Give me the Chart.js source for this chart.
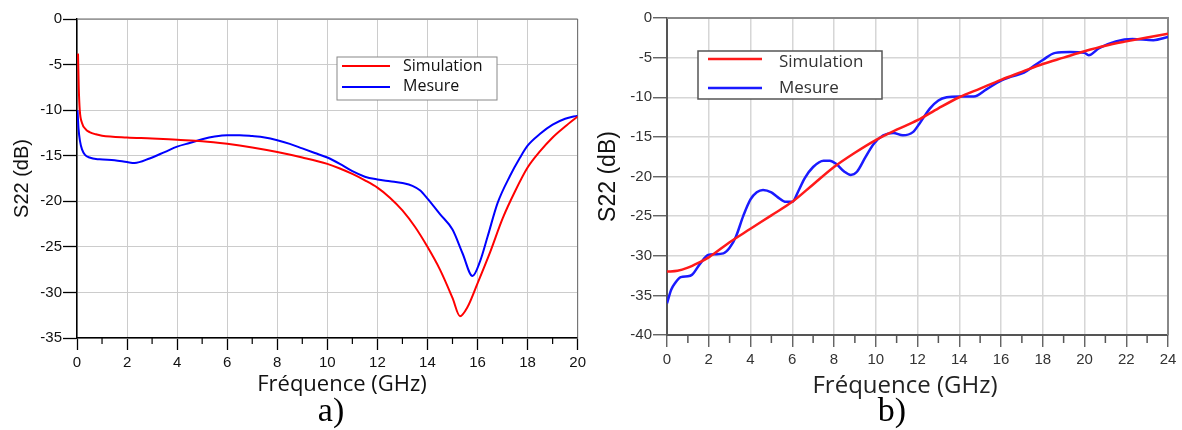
<!DOCTYPE html>
<html>
<head>
<meta charset="utf-8">
<script src="https://cdn.jsdelivr.net/npm/chart.js@4.4.1/dist/chart.umd.min.js"></script>
<style>
  body { margin: 0; background: #fff; }
  #wrap { position: relative; width: 1182px; height: 430px; }
  .pane { position: absolute; top: 0; }
</style>
</head>
<body>
<div id="wrap">
  <div class="pane" style="left:0;width:590px;height:430px"><canvas id="chartA" width="590" height="430"></canvas></div>
  <div class="pane" style="left:590px;width:592px;height:430px"><canvas id="chartB" width="592" height="430"></canvas></div>
</div>
<script>
//my data
// a) S22 0-20 GHz
const freqSimA = [0.04, 0.07, 0.11, 0.2, 0.35, 0.5, 0.75, 1, 2, 3, 4, 5, 6, 7, 8, 9, 10, 10.5, 11, 11.5, 12, 12.5, 13, 13.5, 14, 14.5, 15, 15.3, 15.6, 16, 16.5, 17, 17.5, 18, 18.5, 19, 19.5, 20]
const simA = [-3.8, -7.5, -10, -11.4, -12.1, -12.4, -12.65, -12.8, -13.0, -13.1, -13.25, -13.4, -13.7, -14.1, -14.6, -15.2, -15.9, -16.4, -17.0, -17.7, -18.5, -19.6, -21.0, -22.8, -25.0, -27.5, -30.6, -32.6, -31.6, -29.0, -25.6, -21.9, -18.9, -16.3, -14.5, -13.0, -11.8, -10.7]
const freqMesA = [0.02, 0.06, 0.12, 0.2, 0.32, 0.5, 0.9, 1.5, 2, 2.3, 2.9, 3.5, 4, 4.5, 5, 5.5, 6, 6.5, 7, 7.5, 8, 8.5, 9, 9.5, 10, 10.5, 11, 11.5, 12, 12.5, 13, 13.4, 13.7, 14, 14.5, 15, 15.4, 15.8, 16.1, 16.4, 16.8, 17.3, 17.7, 18, 18.5, 19, 19.5, 20]
const mesA = [-10, -12, -13.4, -14.3, -14.9, -15.2, -15.4, -15.5, -15.7, -15.8, -15.3, -14.6, -14.0, -13.6, -13.2, -12.9, -12.75, -12.75, -12.85, -13.0, -13.3, -13.7, -14.2, -14.7, -15.2, -15.9, -16.7, -17.3, -17.6, -17.8, -18.0, -18.3, -18.8, -19.7, -21.4, -23.1, -25.7, -28.2, -26.6, -23.9, -20.2, -17.2, -15.2, -13.9, -12.6, -11.6, -10.95, -10.6]

// b) S22 0-24 GHz
const freqSimB = [0, 0.5, 1, 1.5, 2, 3, 4, 5, 6, 7, 8, 9, 10, 11, 12, 13, 14, 15, 16, 17, 18, 19, 20, 21, 22, 23, 24]
const simB = [-32.0, -31.9, -31.5, -30.9, -30.2, -28.3, -26.6, -24.9, -23.2, -21.0, -18.8, -17.0, -15.4, -14.1, -12.9, -11.4, -10.0, -8.9, -7.8, -6.8, -5.8, -5.0, -4.2, -3.5, -2.95, -2.45, -2.0]
const freqMesB = [0, 0.2, 0.4, 0.66, 1.0, 1.2, 1.56, 1.97, 2.3, 2.7, 3.0, 3.3, 3.65, 4.0, 4.3, 4.6, 5.0, 5.3, 5.7, 6.0, 6.3, 6.6, 7.0, 7.5, 7.8, 8.1, 8.5, 8.8, 9.1, 9.5, 9.9, 10.36, 10.84, 11.3, 11.78, 12.1, 12.6, 13.0, 13.4, 14.0, 14.7, 15.3, 16.0, 16.5, 17.1, 17.5, 18.0, 18.6, 19.3, 20.0, 20.2, 20.7, 21.5, 22.3, 23.3, 24]
const mesB = [-36.0, -34.3, -33.4, -32.7, -32.6, -32.4, -31.1, -29.9, -29.8, -29.7, -29.0, -27.6, -25.0, -22.9, -22.0, -21.7, -22.0, -22.6, -23.2, -23.2, -21.8, -20.2, -18.8, -18.0, -18.0, -18.4, -19.4, -19.8, -19.4, -17.6, -15.9, -14.8, -14.5, -14.8, -14.4, -13.3, -11.4, -10.4, -10.0, -9.9, -9.9, -9.0, -7.9, -7.4, -6.9, -6.2, -5.3, -4.4, -4.3, -4.4, -4.7, -3.8, -2.95, -2.65, -2.8, -2.4]

const seriesNames = ['Simulation', 'Mesure']
const xTitle = 'Fréquence (GHz)'
const yTitle = 'S22 (dB)'

const toPoints = (xs, ys) => xs.map((x, i) => ({x: x, y: ys[i]}))

/////////////////////////////////////////////////////////////
// decorations: frame, minor ticks, boxed legend, x title, caption
/////////////////////////////////////////////////////////////
const decor = {
    id: 'decor',
    beforeDatasetsDraw(chart, args, o) {
        const {ctx, chartArea: a} = chart
        const xs = chart.scales.x
        ctx.save()
        ctx.strokeStyle = o.frameColor
        ctx.lineWidth = o.frameWidth
        ctx.beginPath()
        ctx.moveTo(a.left, a.top)
        ctx.lineTo(a.right, a.top)
        ctx.lineTo(a.right, a.bottom)
        ctx.stroke()
        // minor ticks on odd GHz
        ctx.strokeStyle = o.axisColor
        ctx.lineWidth = o.minorWidth
        for (let v = xs.min + 1; v < xs.max; v += 2) {
            const px = xs.getPixelForValue(v)
            ctx.beginPath()
            ctx.moveTo(px, a.bottom)
            ctx.lineTo(px, a.bottom + o.minorLen)
            ctx.stroke()
        }
        ctx.restore()
    },
    afterDatasetsDraw(chart, args, o) {
        const {ctx} = chart
        const L = o.legend
        ctx.save()
        ctx.fillStyle = '#fff'
        ctx.fillRect(L.x, L.y, L.w, L.h)
        ctx.strokeStyle = L.border
        ctx.lineWidth = L.borderWidth
        ctx.strokeRect(L.x, L.y, L.w, L.h)
        chart.data.datasets.forEach((ds, i) => {
            ctx.strokeStyle = ds.borderColor
            ctx.lineWidth = ds.borderWidth
            ctx.beginPath()
            ctx.moveTo(L.lineX0, L.lineRows[i])
            ctx.lineTo(L.lineX1, L.lineRows[i])
            ctx.stroke()
            ctx.fillStyle = L.color
            ctx.font = L.font
            ctx.textAlign = 'left'
            ctx.textBaseline = 'middle'
            ctx.fillText(ds.label, L.textX, L.textRows[i])
        })
        ctx.restore()
    },
    afterDraw(chart, args, o) {
        const {ctx} = chart
        ctx.save()
        ctx.textAlign = 'center'
        ctx.textBaseline = 'alphabetic'
        ctx.fillStyle = o.xTitle.color
        ctx.font = o.xTitle.font
        ctx.fillText(o.xTitle.text, o.xTitle.x, o.xTitle.y)
        ctx.fillStyle = '#000'
        ctx.font = o.caption.font
        ctx.fillText(o.caption.text, o.caption.x, o.caption.y)
        ctx.restore()
    }
}

function makeConfig(p) {
    return {
        type: 'line',
        data: {
            datasets: [{
                label: seriesNames[0],
                data: toPoints(p.freqSim, p.sim),
                borderColor: p.red,
                borderWidth: p.lineWidth,
                pointRadius: 0,
                cubicInterpolationMode: 'monotone',
                fill: false
            }, {
                label: seriesNames[1],
                data: toPoints(p.freqMes, p.mes),
                borderColor: p.blue,
                borderWidth: p.lineWidth,
                pointRadius: 0,
                cubicInterpolationMode: 'monotone',
                fill: false
            }]
        },
        plugins: [decor],
        options: {
            responsive: false,
            animation: false,
            devicePixelRatio: 1,
            layout: {padding: p.padding},
            plugins: {
                legend: {display: false},
                tooltip: {enabled: false},
                decor: p.decor
            },
            scales: {
                x: {
                    type: 'linear',
                    min: 0,
                    max: p.xMax,
                    afterFit: (s) => { s.height = 62 },
                    ticks: {
                        stepSize: 2,
                        autoSkip: false,
                        maxRotation: 0,
                        padding: 4,
                        color: p.tickColor,
                        font: {family: '"Liberation Sans", Arial, sans-serif', size: 15}
                    },
                    grid: {color: p.gridColor, lineWidth: p.gridWidth, tickColor: p.axisColor, tickLength: 12, tickWidth: 1.3},
                    border: {color: p.axisColor, width: p.axisWidth}
                },
                y: {
                    min: p.yMin,
                    max: 0,
                    afterFit: (s) => { s.width = 77 },
                    ticks: {
                        stepSize: 5,
                        padding: 1,
                        color: p.tickColor,
                        font: {family: '"Liberation Sans", Arial, sans-serif', size: 15}
                    },
                    grid: {color: p.gridColor, lineWidth: p.gridWidth, tickColor: p.axisColor, tickLength: 14, tickWidth: 1.3},
                    border: {color: p.axisColor, width: p.axisWidth},
                    title: {
                        display: true,
                        text: yTitle,
                        color: '#111',
                        padding: {top: p.yTitlePad, bottom: 0},
                        font: {family: '"Liberation Sans", Arial, sans-serif', size: p.yTitleSize}
                    }
                }
            }
        }
    }
}

// render a)
const chartA = new Chart(document.getElementById('chartA'), makeConfig({
    freqSim: freqSimA, sim: simA, freqMes: freqMesA, mes: mesA,
    xMax: 20, yMin: -35,
    red: '#ff0000', blue: '#0000ff', lineWidth: 2,
    gridColor: '#cccccc', gridWidth: 1, axisColor: '#000', axisWidth: 1.5,
    tickColor: '#111', yTitleSize: 20, yTitlePad: 10,
    padding: {left: 0, right: 10, top: 19, bottom: 30},
    decor: {
        frameColor: '#666', frameWidth: 1, axisColor: '#000', minorLen: 6, minorWidth: 1.2,
        legend: {x: 337, y: 57, w: 160, h: 43, border: '#888', borderWidth: 1,
            lineX0: 342, lineX1: 390, lineRows: [66, 87], textX: 403, textRows: [66, 86],
            font: '16px "Open Sans", sans-serif', color: '#111'},
        xTitle: {text: xTitle, x: 342, y: 391, font: '22px "Open Sans", sans-serif', color: '#111'},
        caption: {text: 'a)', x: 331, y: 421, font: '34px "Liberation Serif", serif'}
    }
}))

// render b)
const chartB = new Chart(document.getElementById('chartB'), makeConfig({
    freqSim: freqSimB, sim: simB, freqMes: freqMesB, mes: mesB,
    xMax: 24, yMin: -40,
    red: '#ff1a1a', blue: '#1a1aff', lineWidth: 2.5,
    gridColor: '#d6d6d6', gridWidth: 1.5, axisColor: '#555', axisWidth: 2,
    tickColor: '#333', yTitleSize: 23, yTitlePad: 5,
    padding: {left: 0, right: 14, top: 18, bottom: 33},
    decor: {
        frameColor: '#888', frameWidth: 2, axisColor: '#555', minorLen: 8, minorWidth: 1.5,
        legend: {x: 108, y: 51, w: 184, h: 48, border: '#555', borderWidth: 1.5,
            lineX0: 118, lineX1: 172, lineRows: [59, 88], textX: 189, textRows: [62, 88.5],
            font: '17px "Open Sans", sans-serif', color: '#333'},
        xTitle: {text: xTitle, x: 315, y: 393, font: '24px "Open Sans", sans-serif', color: '#222'},
        caption: {text: 'b)', x: 302, y: 421, font: '34px "Liberation Serif", serif'}
    }
}))
</script>
</body>
</html>
